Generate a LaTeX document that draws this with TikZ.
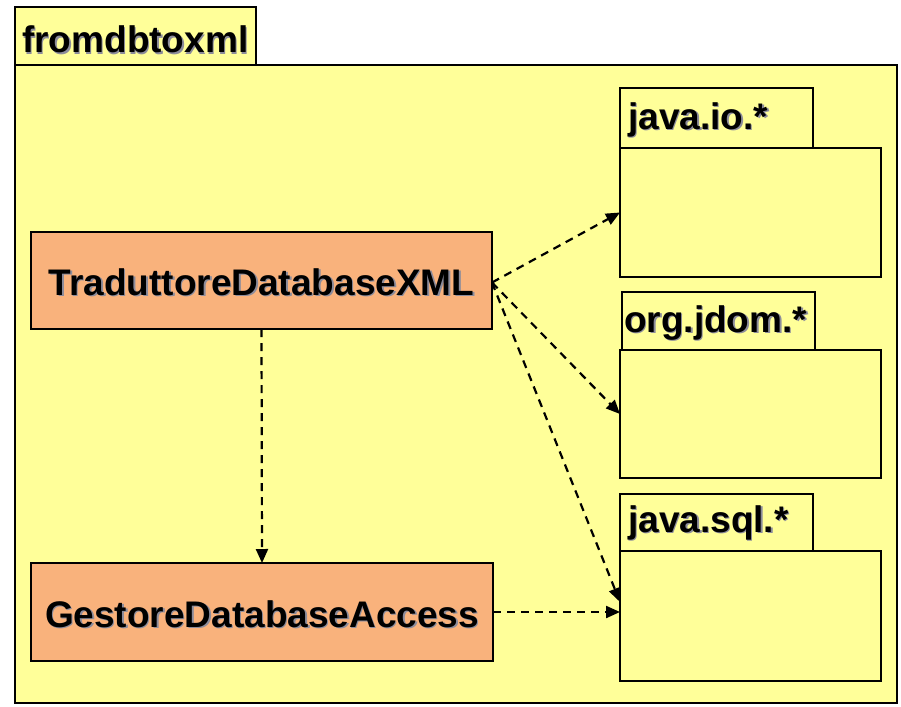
\documentclass[tikz,border=0pt]{standalone}
\usepackage{fontspec}
\setmainfont{Liberation Sans}
\usetikzlibrary{arrows.meta}
\definecolor{pkgfill}{RGB}{255,255,153}
\definecolor{clsfill}{RGB}{249,178,124}
\definecolor{shadowgray}{RGB}{140,140,155}
% bold text with a soft grey drop shadow
\newcommand{\shadowed}[1]{\rlap{\hspace{1.4pt}\raisebox{-1.4pt}{\color{shadowgray}#1}}#1}
\begin{document}
\begin{tikzpicture}[x=1pt,y=-1pt,
  box/.style={draw=black,line width=2.4pt,inner sep=0pt,outer sep=0pt,anchor=north west},
  pkgbox/.style={box,fill=pkgfill},
  clsbox/.style={box,fill=clsfill},
  lbl/.style={font=\bfseries\fontsize{37}{42}\selectfont,inner sep=0pt,anchor=base west},
  clslbl/.style={font=\bfseries\fontsize{37}{42}\selectfont,inner sep=0pt,anchor=base},
  dep/.style={draw=black,line width=2.2pt,dash pattern=on 8pt off 6pt,-{Triangle[length=14pt,width=12pt]}}]
\useasboundingbox (0,0) rectangle (901,706);
\fill[white] (0,0) rectangle (901,706);

% outer package fromdbtoxml
\node[pkgbox,minimum width=241pt,minimum height=58pt] (outertab) at (15,7) {};
\node[pkgbox,minimum width=882pt,minimum height=638pt] (outer) at (15,65) {};
\node[lbl] (outerlbl) at (22,53) {\shadowed{fromdbtoxml}};

% package java.io.*
\node[pkgbox,minimum width=193pt,minimum height=60pt] (iotab) at (620,88) {};
\node[pkgbox,minimum width=261pt,minimum height=129pt] (iobody) at (620,148) {};
\node[lbl] (iolbl) at (628,129) {\shadowed{java.io.*}};

% package org.jdom.*
\node[pkgbox,minimum width=193pt,minimum height=58pt] (jdomtab) at (622,292) {};
\node[pkgbox,minimum width=261pt,minimum height=128pt] (jdombody) at (620,350) {};
\node[lbl] (jdomlbl) at (624,332) {\shadowed{org.jdom.*}};

% package java.sql.*
\node[pkgbox,minimum width=193pt,minimum height=57pt] (sqltab) at (620,494) {};
\node[pkgbox,minimum width=261pt,minimum height=130pt] (sqlbody) at (620,551) {};
\node[lbl] (sqllbl) at (628,532) {\shadowed{java.sql.*}};

% classes
\node[clsbox,minimum width=461pt,minimum height=97pt] (trad) at (31,232) {};
\node[clslbl] (tradlbl) at (261.5,295) {\shadowed{TraduttoreDatabaseXML}};
\node[clsbox,minimum width=462pt,minimum height=98pt] (gest) at (31,563) {};
\node[clslbl] (gestlbl) at (262,627) {\shadowed{GestoreDatabaseAccess}};

% dependencies
\coordinate (tradout) at ([yshift=-2pt]trad.east);
\draw[dep] (tradout) -- (iobody.west);
\draw[dep] (tradout) -- (jdombody.west);
\draw[dep] (tradout) -- ([yshift=14pt]sqlbody.west);
\draw[dep] (trad.south) -- (gest.north);
\draw[dep] (gest.east) -- (sqlbody.west |- gest.east);
\end{tikzpicture}
\end{document}
